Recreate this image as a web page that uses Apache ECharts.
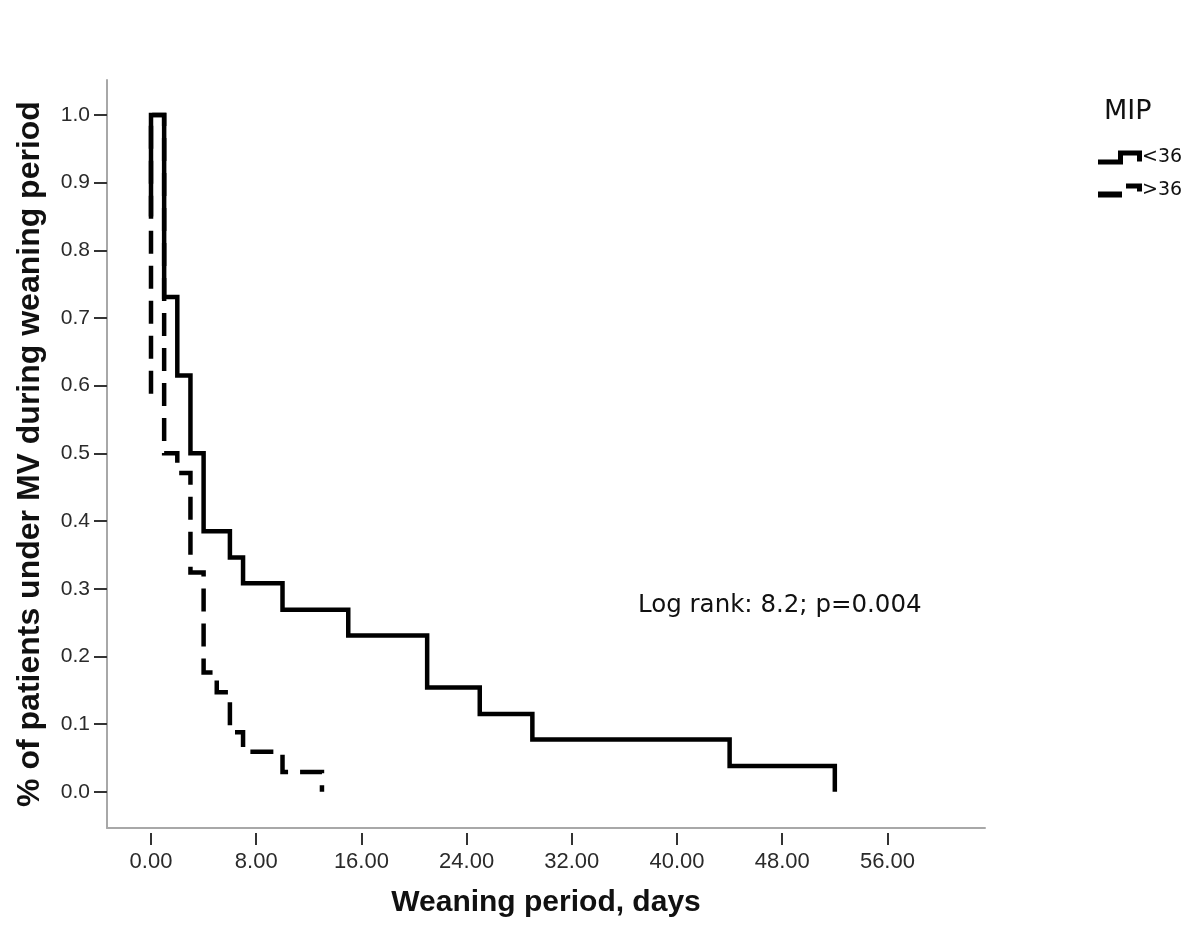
<!DOCTYPE html>
<html>
<head>
<meta charset="utf-8">
<script src="https://cdn.jsdelivr.net/npm/echarts@6/dist/echarts.min.js"></script>
<style>
  html, body { margin: 0; padding: 0; background: #fff; }
  #chart { width: 1200px; height: 938px; }
</style>
</head>
<body>
<div id="chart"></div>
<script>
// ---- data ----
// MIP < 36 (solid): [time in days, proportion still under MV]
const lowMipSteps = [
  [0, 0.85], [0, 1.0], [1, 0.731], [2, 0.615], [3, 0.5], [4, 0.385], [6, 0.346],
  [7, 0.308], [10, 0.269], [15, 0.231], [21, 0.154], [25, 0.115],
  [29, 0.077], [44, 0.038], [52, 0.0]
];
// MIP > 36 (dashed)
const highMipSteps = [
  [0, 0.588], [0, 1.0], [1, 0.5], [2, 0.471], [3, 0.324], [4, 0.176],
  [5, 0.147], [6, 0.088], [7, 0.059], [10, 0.029], [13, 0.0]
];
const seriesNames = ['<36', '>36'];
const xTickValues = [0, 8, 16, 24, 32, 40, 48, 56];
const yTickValues = [0, 0.1, 0.2, 0.3, 0.4, 0.5, 0.6, 0.7, 0.8, 0.9, 1.0];
const annotationText = 'Log rank: 8.2; p=0.004';
const legendTitle = 'MIP';
const xTitle = 'Weaning period, days';
const yTitle = '% of patients under MV during weaning period';

// ---- chart ----
const chart = echarts.init(document.getElementById('chart'), null, { renderer: 'canvas' });
const xMin = -3.346, xMax = 63.42;
const yMin = -0.0536, yMax = 1.0517;
const labelFont = 'Liberation Sans, Arial, sans-serif';

const solidIcon = 'path://M0,9L25,9L25,14L0,14Z M20,0L25,0L25,14L20,14Z M20,0L44,0L44,5L20,5Z M39,0L44,0L44,11L39,11Z';
const dashIcon = 'path://M0,8L24,8L24,14L0,14Z M28,0L44,0L44,5L28,5Z M39,0L44,0L44,8L39,8Z';

chart.setOption({
  backgroundColor: '#ffffff',
  animation: false,
  title: {
    text: legendTitle,
    left: 1099, top: 93,
    textStyle: { fontFamily: 'DejaVu Sans', fontSize: 27, fontWeight: 'normal', color: '#111' }
  },
  legend: {
    orient: 'vertical',
    left: 1093, top: 143,
    itemWidth: 44, itemHeight: 14, itemGap: 14,
    textStyle: { fontFamily: 'DejaVu Sans', fontSize: 19, color: '#111', padding: [0, 0, 0, -5] },
    data: [
      { name: seriesNames[0], icon: solidIcon, itemStyle: { color: '#000', borderWidth: 0 } },
      { name: seriesNames[1], icon: dashIcon, itemStyle: { color: '#000', borderWidth: 0 } }
    ]
  },
  grid: { left: 107, right: 215, top: 80, bottom: 110, containLabel: false },
  xAxis: [
    {
      type: 'value', min: xMin, max: xMax, position: 'bottom',
      axisLine: { show: true, onZero: false, lineStyle: { color: '#a8a8a8', width: 2 } },
      axisTick: { show: false }, axisLabel: { show: false }, splitLine: { show: false }
    },
    {
      type: 'value', min: xMin, max: xMax, position: 'bottom', offset: 5,
      axisLine: { show: false, onZero: false },
      axisTick: { show: true, length: 12, customValues: xTickValues, lineStyle: { color: '#333', width: 2 } },
      axisLabel: {
        show: true, customValues: xTickValues, margin: 18,
        formatter: v => v.toFixed(2),
        fontFamily: labelFont, fontSize: 22, color: '#2a2a2a'
      },
      splitLine: { show: false },
      name: xTitle, nameLocation: 'middle', nameGap: 55,
      nameTextStyle: { fontFamily: labelFont, fontSize: 30, fontWeight: 'bold', color: '#111' }
    }
  ],
  yAxis: {
    type: 'value', min: yMin, max: yMax,
    axisLine: { show: true, onZero: false, lineStyle: { color: '#a8a8a8', width: 2 } },
    axisTick: { show: true, length: 13, customValues: yTickValues, lineStyle: { color: '#333', width: 2 } },
    axisLabel: {
      show: true, customValues: yTickValues, margin: 17,
      formatter: v => v.toFixed(1),
      fontFamily: labelFont, fontSize: 21, color: '#2a2a2a'
    },
    splitLine: { show: false },
    name: yTitle, nameLocation: 'middle', nameGap: 61,
    nameTextStyle: { fontFamily: labelFont, fontSize: 32, fontWeight: 'bold', color: '#111' }
  },
  graphic: [
    {
      type: 'text', left: 638, top: 593,
      style: { text: annotationText, font: '24.5px "DejaVu Sans"', fill: '#111' }
    }
  ],
  series: [
    {
      name: seriesNames[1], type: 'line', xAxisIndex: 0, step: 'end',
      data: highMipSteps, showSymbol: false, symbol: 'none', z: 2,
      lineStyle: { color: '#000', width: 4.5, type: [23, 12], cap: 'butt', join: 'miter' },
      itemStyle: { color: '#000' }
    },
    {
      name: seriesNames[0], type: 'line', xAxisIndex: 0, step: 'end',
      data: lowMipSteps, showSymbol: false, symbol: 'none', z: 3,
      lineStyle: { color: '#000', width: 4.5, type: 'solid', cap: 'butt', join: 'miter' },
      itemStyle: { color: '#000' }
    }
  ]
});
</script>
</body>
</html>
